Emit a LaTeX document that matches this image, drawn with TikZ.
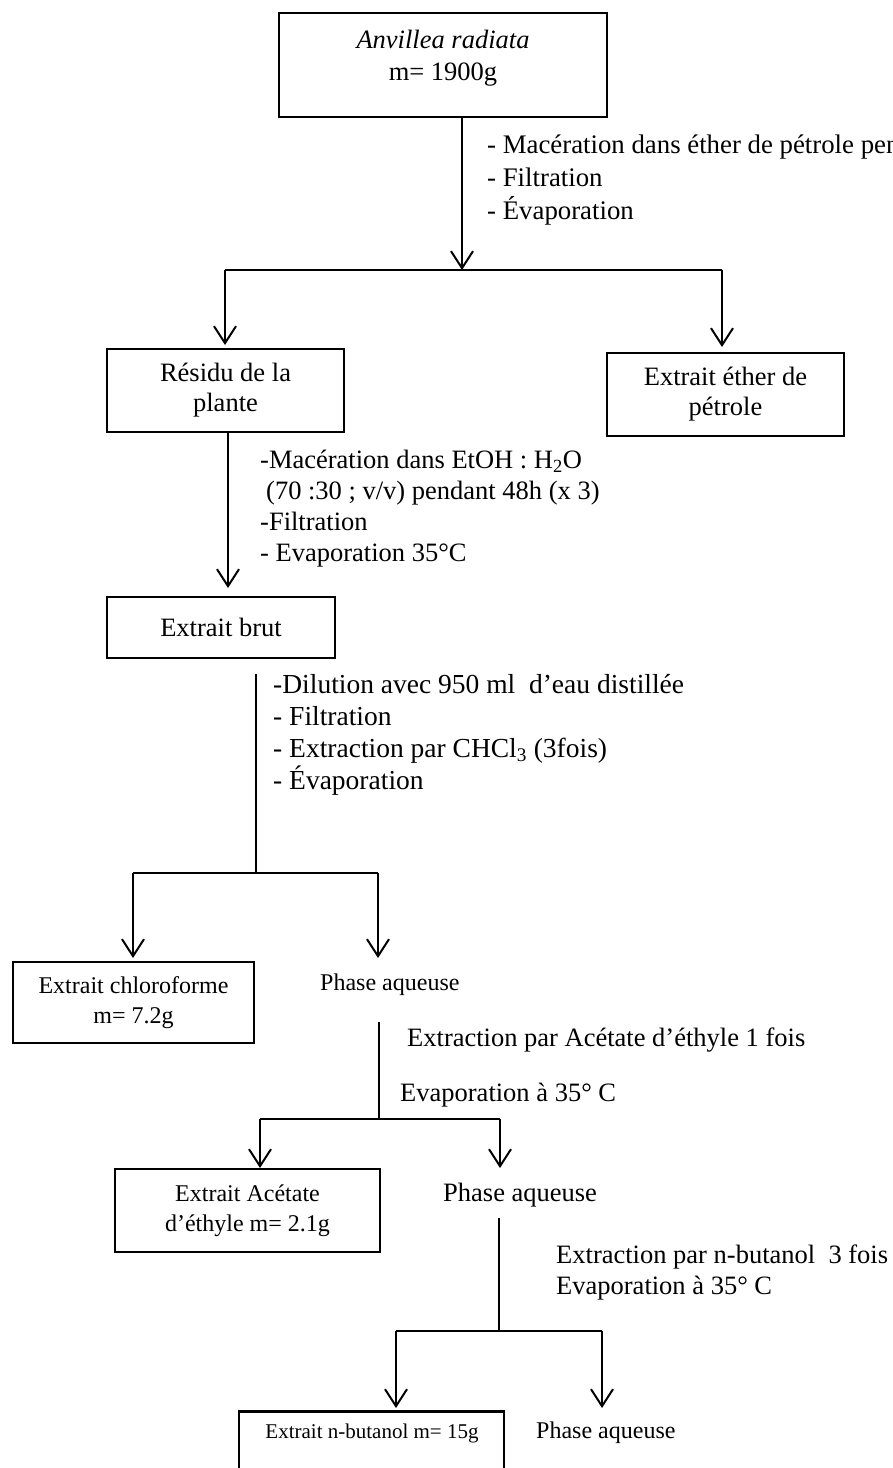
\documentclass[tikz,border=0pt]{standalone}
\usepackage{fontspec}
\setmainfont{Liberation Serif}
\usetikzlibrary{arrows.meta}
\begin{document}
\begin{tikzpicture}[x=1pt,y=-1pt,
  box/.style={draw, line width=2.6pt, align=center, inner sep=0pt},
  conn/.style={line width=2pt},
  thin/.style={line width=1.6pt},
  arr/.style={conn, -{Straight Barb[length=17pt,width=22pt]}},
  big/.style={font=\fontsize{26.5}{30}\selectfont},
  mid/.style={font=\fontsize{24}{30}\selectfont},
  small/.style={font=\fontsize{21}{25}\selectfont},
  lbl/.style={anchor=west, inner sep=0pt, align=left}
]
\useasboundingbox (0,0) rectangle (893,1468);
\clip (0,0) rectangle (893,1468);
% boxes
\node[box, minimum width=328, minimum height=104] (top) at (443,65) {};
\node[big, align=center, inner sep=0pt] (toptxt) at (443,58)
  {\textit{Anvillea radiata}\\[2pt] m= 1900g};
\node[box, big, minimum width=237, minimum height=83] (res) at (225.5,390.5)
  {Résidu de la\\ plante};
\node[box, big, minimum width=237, minimum height=83] (eth) at (725.5,394.5)
  {Extrait éther de\\ pétrole};
\node[box, big, minimum width=228, minimum height=61] (brut) at (221,627.5)
  {Extrait brut};
\node[box, mid, minimum width=241, minimum height=81] (chl) at (133.5,1002.5)
  {Extrait chloroforme\\ m= 7.2g};
\node[box, mid, minimum width=265, minimum height=83] (ace) at (247.5,1210.5)
  {Extrait Acétate\\ d’éthyle m= 2.1g};
\node[box, minimum width=265, minimum height=95, anchor=north] (but) at (371.5,1410) {};
\node[small, inner sep=0pt] (butt) at (372,1433) {Extrait n-butanol m= 15g};
% plain texts
\node[lbl, mid] (pa1) at (320,985) {Phase aqueuse};
\node[lbl, big] (pa2) at (443,1195) {Phase aqueuse};
\node[lbl, mid] (pa3) at (536,1433) {Phase aqueuse};
% step labels
\node[lbl, font=\fontsize{26.8}{33}\selectfont] (s1) at (487,180)
  {- Macération dans éther de pétrole pen\\- Filtration\\- Évaporation};
\node[lbl, font=\fontsize{26.5}{31}\selectfont] (s2) at (260,509)
  {-Macération dans EtOH : H\textsubscript{2}O\\\hspace{6pt}(70 :30 ; v/v) pendant 48h (x 3)\\-Filtration\\- Evaporation 35°C};
\node[lbl, font=\fontsize{27.5}{32}\selectfont] (s3) at (273,734.5)
  {-Dilution avec 950 ml\ \ d’eau distillée\\- Filtration\\- Extraction par CHCl\textsubscript{3} (3fois)\\- Évaporation};
\node[lbl, big] (s4) at (407,1040) {Extraction par Acétate d’éthyle 1 fois};
\node[lbl, big] (s5) at (400,1095) {Evaporation à 35° C};
\node[lbl, font=\fontsize{26.5}{31}\selectfont] (s6) at (556,1272.5)
  {Extraction par n-butanol\ \ 3 fois\\Evaporation à 35° C};
% junction and tip coordinates
\coordinate (j1) at (462,270);
\coordinate (j1l) at (225,270);
\coordinate (j1r) at (722,270);
\coordinate (t1l) at (225,345);
\coordinate (t1r) at (722,347);
\coordinate (b1) at (228,588);
\coordinate (c2) at (256,674);
\coordinate (j2) at (256,873);
\coordinate (j2l) at (133,873);
\coordinate (j2r) at (378,873);
\coordinate (t2l) at (133,958);
\coordinate (t2r) at (378,958);
\coordinate (c3) at (379,1022);
\coordinate (j3) at (379,1119);
\coordinate (j3l) at (260,1119);
\coordinate (j3r) at (500,1119);
\coordinate (t3l) at (260,1168);
\coordinate (t3r) at (500,1168);
\coordinate (c4) at (499,1218);
\coordinate (j4) at (499,1331);
\coordinate (j4l) at (396,1331);
\coordinate (j4r) at (602,1331);
\coordinate (t4l) at (396,1408);
\coordinate (t4r) at (602,1408);
% connectors
\draw[arr] (top.south -| j1) -- (j1);
\draw[conn] (j1l) -- (j1r);
\draw[arr] (j1l) -- (t1l);
\draw[arr] (j1r) -- (t1r);
\draw[arr] (res.south -| b1) -- (b1);
\draw[thin] (c2) -- (j2);
\draw[thin] (j2l) -- (j2r);
\draw[arr] (j2l) -- (t2l);
\draw[arr] (j2r) -- (t2r);
\draw[thin] (c3) -- (j3);
\draw[conn] (j3l) -- (j3r);
\draw[arr] (j3l) -- (t3l);
\draw[arr] (j3r) -- (t3r);
\draw[thin] (c4) -- (j4);
\draw[conn] (j4l) -- (j4r);
\draw[arr] (j4l) -- (t4l);
\draw[arr] (j4r) -- (t4r);
\end{tikzpicture}
\end{document}
